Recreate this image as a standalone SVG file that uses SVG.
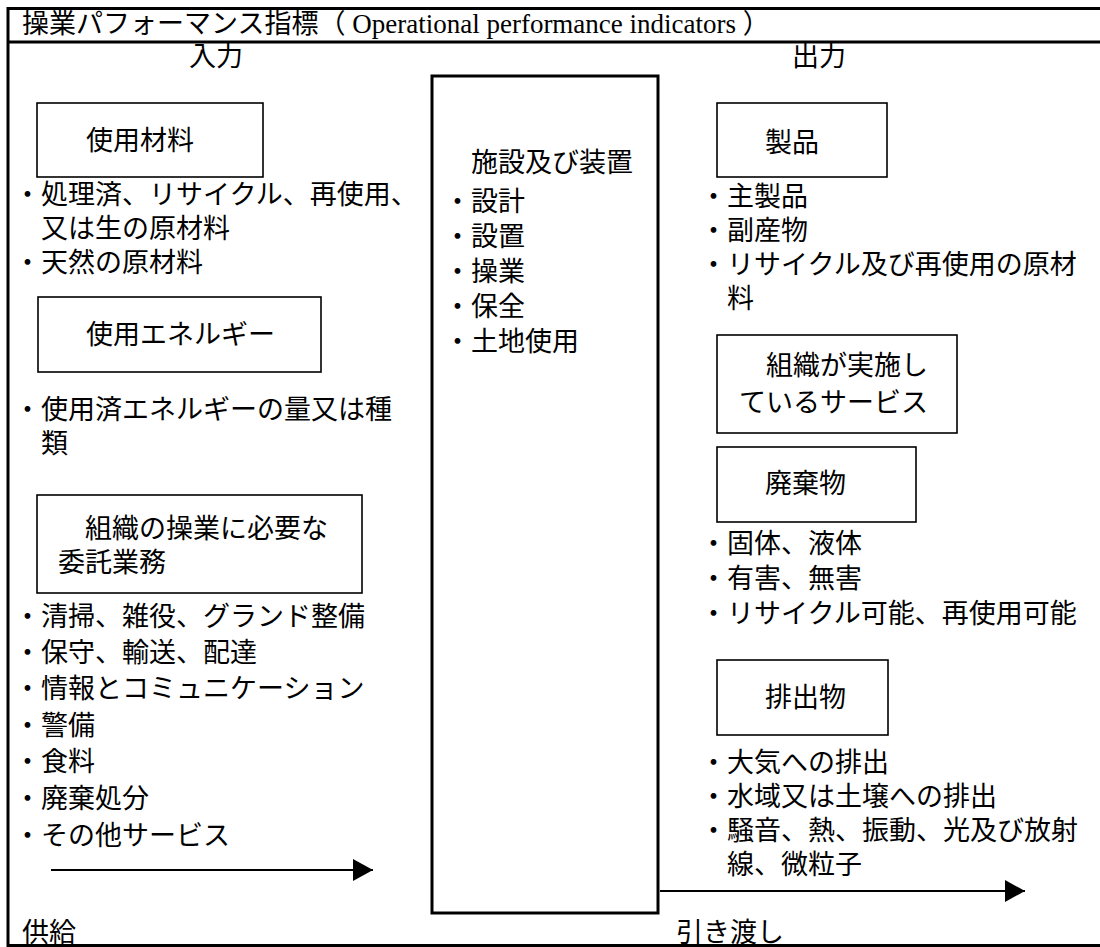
<svg xmlns="http://www.w3.org/2000/svg" width="1100" height="947" viewBox="0 0 1100 947">
<style>
text{font-family:"Noto Sans CJK JP","Liberation Sans",sans-serif;font-size:27px;fill:#000}
.lat{font-family:"Liberation Serif","Noto Sans CJK JP",serif}
.box{fill:#fff;stroke:#000;stroke-width:1.6}
.frame{fill:none;stroke:#000;stroke-width:3}
.conn{stroke:#000;stroke-width:2;fill:none}
</style>
<defs>
<marker id="ah" markerWidth="20" markerHeight="22" refX="20" refY="11" orient="auto" markerUnits="userSpaceOnUse" viewBox="0 0 20 22">
<path d="M0,0 L20,11 L0,22 Z" fill="#000"/>
</marker>
</defs>
<rect width="1100" height="947" fill="#fff"/>

<g id="header">
<text x="22" y="33" font-size="26">操業パフォーマンス指標（<tspan class="lat"> Operational performance indicators </tspan>）</text>
</g>
<text x="189" y="66">入力</text>
<text x="792" y="66">出力</text>

<g id="n-materials">
<rect class="box" x="37" y="103" width="226" height="74"/>
<text x="86" y="150">使用材料</text>
</g>
<g id="materials-list">
<text x="14" y="204">・処理済、リサイクル、再使用、</text>
<text x="14" y="238">　又は生の原材料</text>
<text x="14" y="272">・天然の原材料</text>
</g>
<g id="n-energy">
<rect class="box" x="38" y="297" width="283" height="75"/>
<text x="86" y="344">使用エネルギー</text>
</g>
<g id="energy-list">
<text x="14" y="419">・使用済エネルギーの量又は種</text>
<text x="14" y="453">　類</text>
</g>
<g id="n-outsourced">
<rect class="box" x="37" y="495" width="325" height="98"/>
<text x="58" y="538">　組織の操業に必要な</text>
<text x="58" y="572">委託業務</text>
</g>
<g id="outsourced-list">
<text x="14" y="626">・清掃、雑役、グランド整備</text>
<text x="14" y="662">・保守、輸送、配達</text>
<text x="14" y="698">・情報とコミュニケーション</text>
<text x="14" y="735">・警備</text>
<text x="14" y="771">・食料</text>
<text x="14" y="808">・廃棄処分</text>
<text x="14" y="845">・その他サービス</text>
</g>

<g id="n-facilities">
<rect class="frame" x="432" y="76" width="226" height="837"/>
<text x="444" y="172">　施設及び装置</text>
<text x="444" y="211">・設計</text>
<text x="444" y="246">・設置</text>
<text x="444" y="281">・操業</text>
<text x="444" y="316">・保全</text>
<text x="444" y="351">・土地使用</text>
</g>

<g id="n-products">
<rect class="box" x="717" y="103" width="170" height="74"/>
<text x="765" y="152">製品</text>
</g>
<g id="products-list">
<text x="700" y="206">・主製品</text>
<text x="700" y="240">・副産物</text>
<text x="700" y="274">・リサイクル及び再使用の原材</text>
<text x="700" y="308">　料</text>
</g>
<g id="n-services">
<rect class="box" x="717" y="335" width="240" height="98"/>
<text x="739" y="375">　組織が実施し</text>
<text x="739" y="412">ているサービス</text>
</g>
<g id="n-waste">
<rect class="box" x="717" y="447" width="199" height="75"/>
<text x="765" y="493">廃棄物</text>
</g>
<g id="waste-list">
<text x="700" y="553">・固体、液体</text>
<text x="700" y="588">・有害、無害</text>
<text x="700" y="623">・リサイクル可能、再使用可能</text>
</g>
<g id="n-emissions">
<rect class="box" x="717" y="660" width="171" height="75"/>
<text x="765" y="707">排出物</text>
</g>
<g id="emissions-list">
<text x="700" y="772">・大気への排出</text>
<text x="700" y="806">・水域又は土壌への排出</text>
<text x="700" y="840">・騒音、熱、振動、光及び放射</text>
<text x="700" y="874">　線、微粒子</text>
</g>

<g id="connectors">
<line class="conn" x1="51" y1="870" x2="373" y2="870" marker-end="url(#ah)"/>
<line class="conn" x1="660" y1="891" x2="1025" y2="891" marker-end="url(#ah)"/>
</g>

<text x="22" y="942">供給</text>
<text x="676" y="942">引き渡し</text>

<g id="frame">
<path class="frame" d="M1102,8.5 H8 V945.5 H1102"/>
<line class="frame" x1="8" y1="42" x2="1102" y2="42"/>
</g>
</svg>
